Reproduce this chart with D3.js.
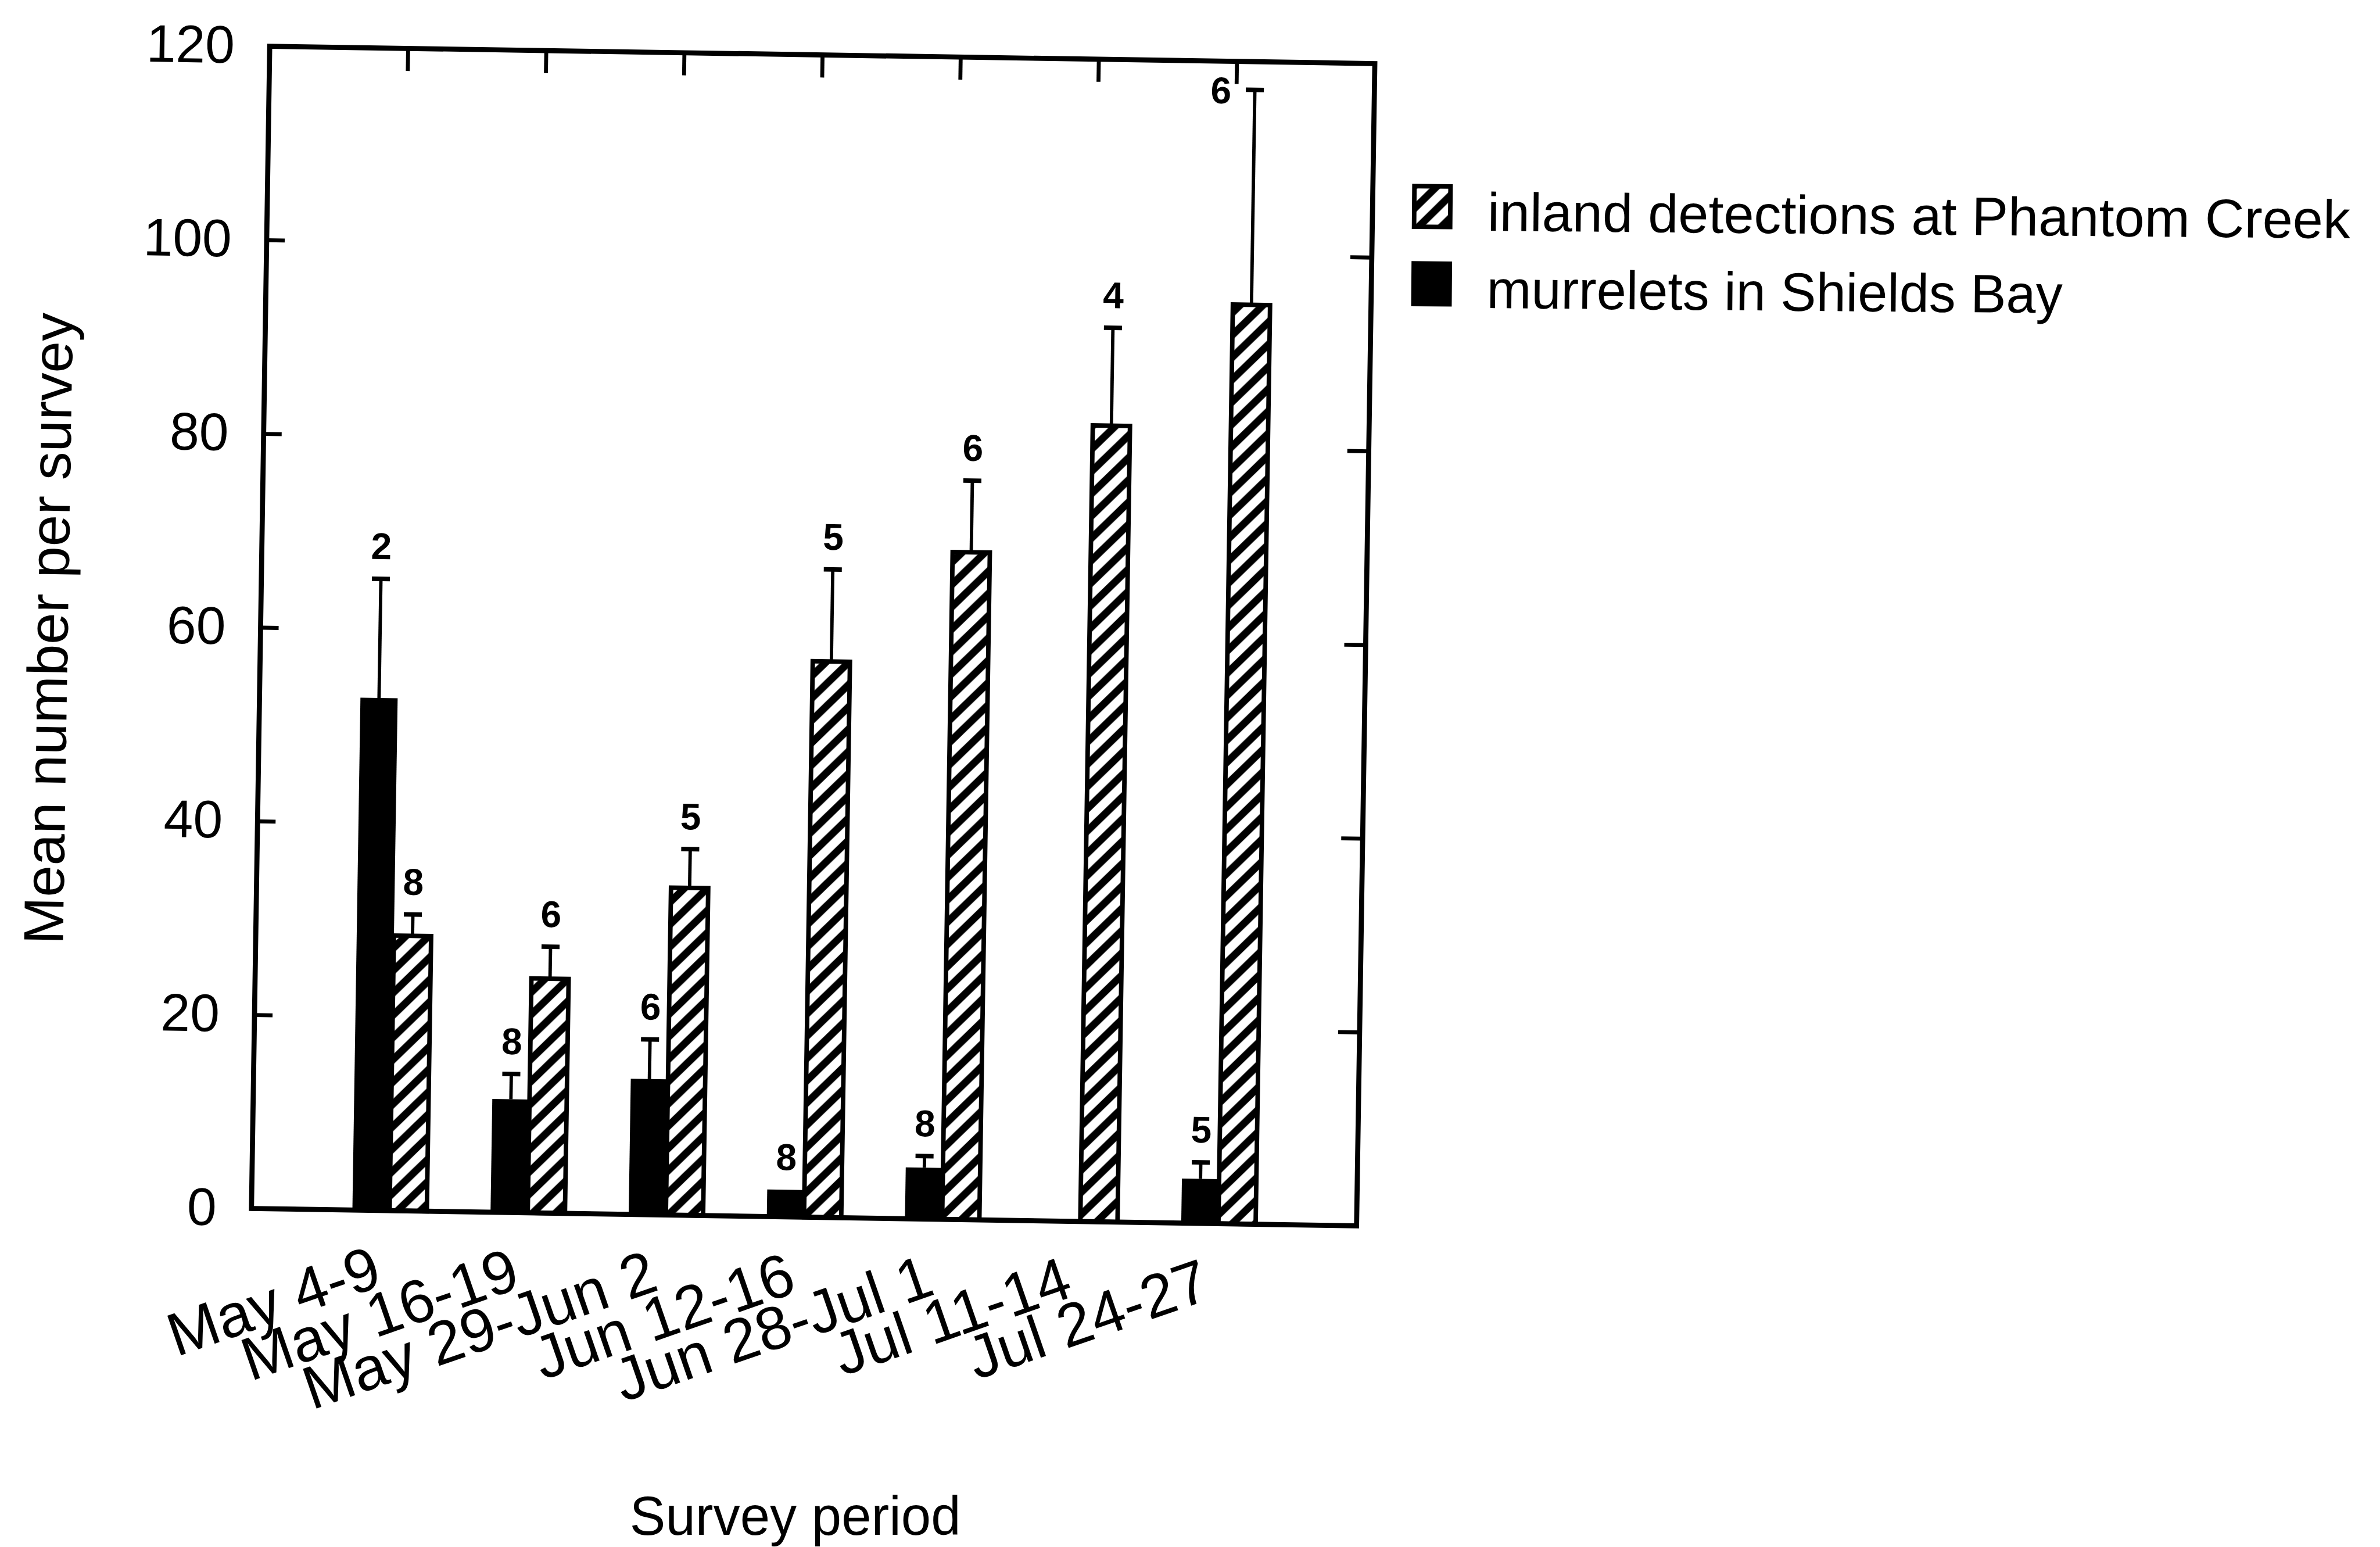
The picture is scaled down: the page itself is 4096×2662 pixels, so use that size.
<!DOCTYPE html>
<html>
<head>
<meta charset="utf-8">
<script src="https://cdn.jsdelivr.net/npm/d3@7"></script>
<style>
body { margin: 0; background: white; }
text { font-family: "Liberation Sans", Arial, sans-serif; fill: black; }
</style>
</head>
<body>
<script>
// survey periods (x categories)
var periods = ["May 4-9", "May 16-19", "May 29-Jun 2", "Jun 12-16", "Jun 28-Jul 1", "Jul 11-14", "Jul 24-27"]

// inland detections at Phantom Creek (hatched bars)
var inland = [28.4, 24.2, 33.8, 57.4, 68.9, 82.2, 94.9]
var inlandErr = [2.2, 3.3, 4.0, 9.5, 7.4, 10.1, 22.2]
var inlandN = [8, 6, 5, 5, 6, 4, 6]

// murrelets in Shields Bay (black bars), no count for Jul 11-14
var bay = [52.9, 11.7, 14.0, 2.8, 5.3, null, 4.6]
var bayErr = [12.3, 2.6, 4.1, 0, 1.2, null, 1.7]
var bayN = [2, 8, 6, 8, 8, null, 5]

var yTicks = [0, 20, 40, 60, 80, 100, 120]
var legendLabels = ["inland detections at Phantom Creek", "murrelets in Shields Bay"]

var svg = d3.select("body").append("svg")
  .attr("width", 4096)
  .attr("height", 2662)
  .attr("viewBox", "0 0 4220 2743")

svg.append("rect").attr("width", 4220).attr("height", 2743).attr("fill", "white")

// hatch pattern
var pat = svg.append("defs").append("pattern")
  .attr("id", "hatch")
  .attr("patternUnits", "userSpaceOnUse")
  .attr("width", 40)
  .attr("height", 40)
pat.append("rect").attr("width", 40).attr("height", 40).attr("fill", "white")
pat.append("path")
  .attr("d", "M-10,10 L10,-10 M0,40 L40,0 M30,50 L50,30")
  .attr("stroke", "black")
  .attr("stroke-width", 13)

var W = 1960, H = 2061

// the scan is a little tilted, so the plot is too
var frame = svg.append("g").attr("transform", "translate(478,82) rotate(0.9)")

var x = d3.scalePoint().domain(periods).range([0, W]).padding(1)
var sub = d3.scaleBand().domain(["bay", "inland"]).range([-66, 66])
var y = d3.scaleLinear().domain([0, 120]).range([H, 0])

var rows = []
periods.forEach(function (p, i) {
  if (bay[i] != null) rows.push({ period: p, series: "bay", v: bay[i], e: bayErr[i], n: bayN[i] })
  rows.push({ period: p, series: "inland", v: inland[i], e: inlandErr[i], n: inlandN[i] })
})

function cx(d) { return x(d.period) + sub(d.series) + sub.bandwidth() / 2 }

// bars
frame.selectAll("rect.bar").data(rows).join("rect")
  .attr("class", "bar")
  .attr("x", d => x(d.period) + sub(d.series))
  .attr("y", d => y(d.v))
  .attr("width", sub.bandwidth())
  .attr("height", d => H - y(d.v))
  .attr("fill", d => d.series == "bay" ? "black" : "url(#hatch)")
  .attr("stroke", "black")
  .attr("stroke-width", d => d.series == "bay" ? 0 : 8)

// error bars (upper only)
var err = rows.filter(d => d.e > 0)
frame.selectAll("line.whisker").data(err).join("line")
  .attr("class", "whisker")
  .attr("x1", cx).attr("x2", cx)
  .attr("y1", d => y(d.v))
  .attr("y2", d => y(d.v + d.e))
  .attr("stroke", "black").attr("stroke-width", 6)
frame.selectAll("line.cap").data(err).join("line")
  .attr("class", "cap")
  .attr("x1", d => cx(d) - 16).attr("x2", d => cx(d) + 16)
  .attr("y1", d => y(d.v + d.e))
  .attr("y2", d => y(d.v + d.e))
  .attr("stroke", "black").attr("stroke-width", 8)

// sample sizes above the bars
frame.selectAll("text.n").data(rows).join("text")
  .attr("class", "n")
  .attr("text-anchor", "middle")
  .attr("font-size", 66)
  .attr("font-weight", "bold")
  .each(function (d) {
    var capY = y(d.v + d.e)
    var t = d3.select(this)
    if (capY - 35 - 45 < 0) {
      // no room under the top axis, put it beside the cap
      t.attr("x", cx(d) - 60).attr("y", capY + 25)
    } else {
      t.attr("x", cx(d)).attr("y", capY - 35)
    }
  })
  .text(d => d.n)

// left axis
var leftAx = frame.append("g")
  .call(d3.axisLeft(y).tickValues(yTicks).tickSize(-32).tickPadding(62).tickFormat(d3.format("d")))
leftAx.select(".domain").remove()
leftAx.attr("font-size", 94).attr("font-family", null)
leftAx.selectAll("line").attr("stroke-width", 7)

// right axis
var rightAx = frame.append("g")
  .attr("transform", "translate(" + W + ",0)")
  .call(d3.axisRight(y).tickValues([20, 40, 60, 80, 100]).tickSize(-38).tickFormat(""))
rightAx.select(".domain").remove()
rightAx.selectAll("line").attr("stroke-width", 7)

// top axis ticks
var topAx = frame.append("g")
  .call(d3.axisTop(x).tickSize(-40).tickFormat(""))
topAx.select(".domain").remove()
topAx.selectAll("line").attr("stroke-width", 7)

// bottom labels
var bottomAx = frame.append("g")
  .attr("transform", "translate(0," + H + ")")
  .call(d3.axisBottom(x).tickSize(0).tickPadding(0))
bottomAx.select(".domain").remove()
bottomAx.attr("font-size", 108).attr("font-family", null)
bottomAx.selectAll("text")
  .attr("text-anchor", "end")
  .attr("x", -8)
  .attr("y", 132)
  .attr("dy", 0)
  .attr("transform", "rotate(-20,-8,132)")

// plot border
frame.append("rect")
  .attr("width", W)
  .attr("height", H)
  .attr("fill", "none")
  .attr("stroke", "black")
  .attr("stroke-width", 9)

// axis titles
svg.append("text")
  .attr("transform", "translate(120,1115) rotate(-89.1)")
  .attr("text-anchor", "middle")
  .attr("font-size", 100)
  .attr("textLength", 1120)
  .attr("lengthAdjust", "spacingAndGlyphs")
  .text("Mean number per survey")

svg.append("text")
  .attr("x", 1410)
  .attr("y", 2721)
  .attr("text-anchor", "middle")
  .attr("font-size", 98)
  .attr("textLength", 587)
  .attr("lengthAdjust", "spacingAndGlyphs")
  .text("Survey period")

// legend
var legend = svg.append("g").attr("transform", "translate(2508,330) rotate(0.5)")
var legLen = [1530, 1021]
legendLabels.forEach(function (lab, i) {
  legend.append("rect")
    .attr("x", 0)
    .attr("y", i * 137)
    .attr("width", 64)
    .attr("height", 72)
    .attr("fill", i == 0 ? "url(#hatch)" : "black")
    .attr("stroke", "black")
    .attr("stroke-width", 8)
  legend.append("text")
    .attr("x", 130)
    .attr("y", i * 137 + 78)
    .attr("font-size", 96)
    .attr("textLength", legLen[i])
    .attr("lengthAdjust", "spacingAndGlyphs")
    .text(lab)
})
</script>
</body>
</html>
